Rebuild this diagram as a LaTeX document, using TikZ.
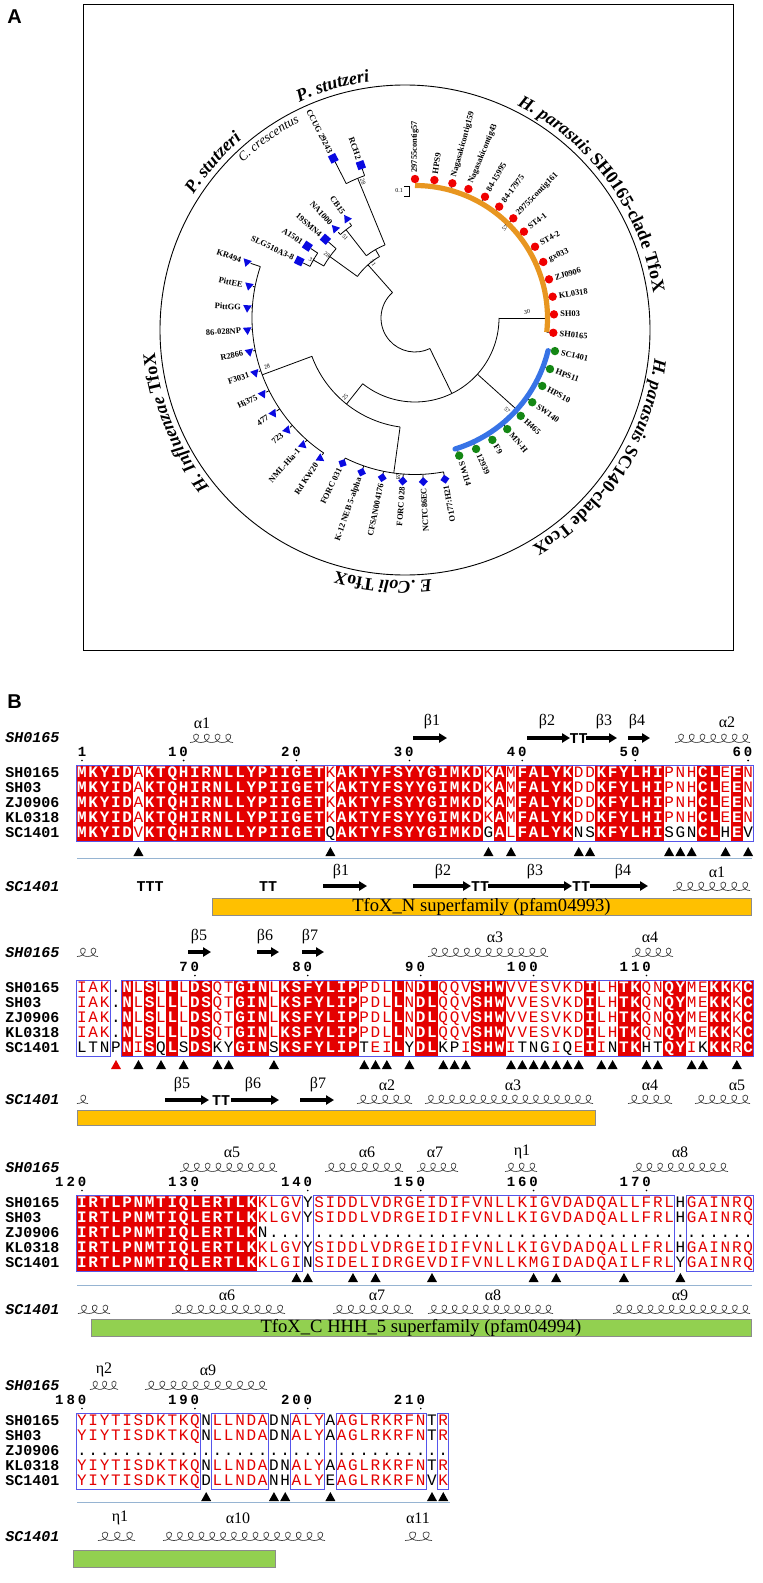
\documentclass[tikz,border=0pt]{standalone}
\usepackage{fontspec}
\setmainfont{Liberation Serif}
\setsansfont{Liberation Sans}
\setmonofont{Liberation Mono}
\usetikzlibrary{arrows.meta, positioning, calc, shapes.geometric, decorations.text}

\definecolor{espred}{RGB}{228,0,0}
\definecolor{espframe}{RGB}{85,85,235}
\definecolor{rulecol}{RGB}{150,180,210}
\definecolor{ntermc}{RGB}{255,192,0}
\definecolor{ctermc}{RGB}{146,208,80}
\definecolor{clorange}{RGB}{232,150,32}
\definecolor{clblue}{RGB}{55,115,230}
\definecolor{hpred}{RGB}{240,0,0}
\definecolor{hpgreen}{RGB}{20,135,20}
\definecolor{symblue}{RGB}{10,10,225}

% alignment helpers
\newcount\rescol
\newcount\digcol
\def\xzero{82}
\def\colw{11.29}
\newcommand\seqline[2]{\global\rescol=0 \def\rowy{#1}\scanres#2\relax}
\def\scanres#1{\ifx\relax#1\let\resnext\relax\else\ifx*#1\let\resnext\scanblack\else\def\curres{#1}\let\resnext\doputres\fi\fi\resnext}
\def\doputres{\global\advance\rescol by 1 \expandafter\classify\curres\endclassify\drawcell\scanres}
\def\classify#1\endclassify{\ifx.#1\def\cellkind{blk}\def\tmpc{.}\else\ifnum`#1>`Z \def\cellkind{sim}\uppercase{\def\tmpc{#1}}\else\def\cellkind{con}\def\tmpc{#1}\fi\fi}
\def\scanblack#1{\global\advance\rescol by 1 \def\cellkind{blk}\def\tmpc{#1}\drawcell\scanres}
\def\drawcell{\pgfmathsetmacro\cx{\xzero+(\the\rescol-1)*\colw}\csname cell\cellkind\endcsname}
\def\cellcon{\fill[espred] (\cx-5.9,\rowy-7.7) rectangle (\cx+5.9,\rowy+7.7);\node[resC] at (\cx,\rowy+4.3) {\tmpc};}
\def\cellsim{\node[resS] at (\cx,\rowy+4.3) {\tmpc};}
\def\cellblk{\node[resB] at (\cx,\rowy+4.3) {\tmpc};}
\newcommand\numlab[4]{\def\numy{#1}\global\digcol=#2\relax\numscan#4\relax\pgfmathsetmacro\cx{\xzero+(#3-1)*\colw}\fill (\cx,#1+4.5) circle (0.9);}
\def\numscan#1{\ifx\relax#1\let\dignext\relax\else\def\curdig{#1}\let\dignext\putdig\fi\dignext}
\def\putdig{\pgfmathsetmacro\cx{\xzero+(\the\digcol-1)*\colw}\node[numtxt] at (\cx,\numy) {\curdig};\global\advance\digcol by 1 \numscan}
\newcommand\hits[2]{\foreach \c in {#2} {\pgfmathsetmacro\cx{\xzero+(\c-1)*\colw}\fill (\cx,#1-5) -- (\cx+5,#1+4) -- (\cx-5,#1+4) -- cycle;}}
\newcommand\consbox[4]{\draw[consframe] ({\xzero+(#1-1)*\colw-5.65},#3) rectangle ({\xzero+(#2-1)*\colw+5.65},#4);}
\newcommand\seqnames[1]{\foreach \nm [count=\k] in {SH0165,SH03,ZJ0906,KL0318,SC1401} \node[seqname] at (5,{#1+15*(\k-1)}) {\nm};}
% helix drawn as a row of curly loops
\newcommand\helix[3]{%
  \pgfmathtruncatemacro\hn{max(1,round((#2-#1)/10.8))}%
  \pgfmathsetmacro\hp{(#2-#1)/\hn}%
  \foreach \i in {1,...,\hn} {
    \pgfmathsetmacro\hx{#1+(\i-1)*\hp}
    \draw[helixline] (\hx,#3+3.5) .. controls (\hx+0.8*\hp,#3+3.5) and (\hx+1.02*\hp,#3-5) .. (\hx+0.58*\hp,#3-5) .. controls (\hx+0.12*\hp,#3-5) and (\hx+0.3*\hp,#3+3.5) .. (\hx+\hp,#3+3.5);
  }}
\def\cladefont{\fontsize{9}{10}\selectfont\bfseries}

\begin{document}
\begin{tikzpicture}[x=0.5pt, y=-0.5pt,
  resC/.style={font=\fontsize{8}{8}\selectfont\ttfamily\bfseries, text=white, inner sep=0pt, anchor=base},
  resS/.style={font=\fontsize{8}{8}\selectfont\ttfamily, text=espred, inner sep=0pt, anchor=base},
  resB/.style={font=\fontsize{8}{8}\selectfont\ttfamily, text=black, inner sep=0pt, anchor=base},
  seqname/.style={font=\fontsize{7.5}{8}\selectfont\ttfamily\bfseries, anchor=west, inner sep=0pt},
  ssname/.style={font=\fontsize{7.5}{8}\selectfont\ttfamily\bfseries\itshape, anchor=west, inner sep=0pt},
  numtxt/.style={font=\fontsize{7}{7}\selectfont\ttfamily\bfseries, inner sep=0pt, anchor=base},
  sslab/.style={font=\fontsize{8}{8}\selectfont, inner sep=0pt},
  turnlab/.style={font=\fontsize{7.5}{8}\selectfont\ttfamily\bfseries, inner sep=0pt},
  helixline/.style={draw=black!75, line width=0.35pt},
  strand/.style={line width=1.6pt, -{Triangle[length=4pt, width=4.6pt]}},
  consframe/.style={draw=espframe, line width=0.5pt},
  dombar/.style={draw=black!45, line width=0.3pt},
  domtext/.style={font=\fontsize{9.3}{10}\selectfont, inner sep=0pt},
  panel/.style={font=\fontsize{10}{12}\selectfont\sffamily\bfseries},
  tree/.style={line width=0.4pt},
  leaflab/.style={font=\fontsize{4.2}{5}\selectfont\bfseries, inner sep=0pt},
  boot/.style={font=\fontsize{3}{3.5}\selectfont, inner sep=0pt},
  sqleaf/.style={rectangle, fill=symblue, minimum size=4pt, inner sep=0pt},
  trileaf/.style={regular polygon, regular polygon sides=3, fill=symblue, minimum size=5pt, inner sep=0pt},
  dileaf/.style={rectangle, fill=symblue, minimum size=3.2pt, inner sep=0pt}]

\useasboundingbox (0,0) rectangle (762,1583);

% ---------------- panel A ----------------
\node[panel] (labA) at (14.5,16.5) {A};
\draw[line width=0.5pt] (83,5) rectangle (733,650);

% scale bar
\draw[line width=0.4pt] (404,186) -- (409,186) -- (409,196) -- (404,196);
\node[boot] (scale) at (399,191) {0.1};

% ring and clade names
\begin{scope}[x=0.5pt, y=0.5pt, shift={(405,-330)}]
  \draw[line width=0.45pt] (0,0) circle (245);
  \path[decorate, decoration={text along path, text align=center, text={|\cladefont\itshape|H. parasuis |\cladefont\upshape|SH0165-clade TfoX}}] (76:251) arc[start angle=76, end angle=-4, radius=251];
  \path[decorate, decoration={text along path, text align=center, text={|\cladefont\itshape|H. parasuis |\cladefont\upshape|SC140-clade TcoX}}] (7:251) arc[start angle=7, end angle=-73, radius=251];
  \path[decorate, decoration={text along path, text align=center, text={|\cladefont\itshape|E .Coli |\cladefont\upshape|TfoX}}] (-55:251) arc[start angle=-55, end angle=-135, radius=251];
  \path[decorate, decoration={text along path, text align=center, text={|\cladefont\itshape|H. Influenzae |\cladefont\upshape|TfoX}}] (242:251) arc[start angle=242, end angle=162, radius=251];
  \path[decorate, decoration={text along path, text align=center, text={|\cladefont\itshape|P. stutzeri}}] (126:251) arc[start angle=126, end angle=87, radius=251];
  \path[decorate, decoration={text along path, text align=center, text={|\cladefont\itshape|P. stutzeri}}] (159:251) arc[start angle=159, end angle=119, radius=251];
  \path[decorate, decoration={text along path, text align=center, text={|\fontsize{6.5}{7}\selectfont\itshape|C. crescentus}}] (145:233) arc[start angle=145, end angle=106, radius=233];
\end{scope}

% tree
\begin{scope}[x=0.5pt, y=0.5pt, shift={(415,-318)}]
  % root
  \draw[tree] (131.5:34) arc[start angle=131.5, end angle=296, radius=34];
  \draw[tree] (131.5:34) -- (131.5:71);
  \draw[tree] (296:34) -- (296:84);
  % P. stutzeri / C. crescentus
  \draw[tree] (144.2:71) arc[start angle=144.2, end angle=120, radius=71];
  \draw[tree] (120:71) -- (120:79);
  \draw[tree] (128:79) arc[start angle=128, end angle=112.3, radius=79];
  \draw[tree] (128:79) -- (128:112);
  \draw[tree] (131.8:112) arc[start angle=131.8, end angle=124.5, radius=112];
  \draw[tree] (112.3:79) -- (112.3:151);
  \draw[tree] (117.1:151) arc[start angle=117.1, end angle=109.5, radius=151];
  \draw[tree] (144.2:71) -- (144.2:105);
  \draw[tree] (150.3:105) arc[start angle=150.3, end angle=138.7, radius=105];
  \draw[tree] (150.3:105) -- (150.3:117);
  \draw[tree] (153.8:117) arc[start angle=153.8, end angle=146.3, radius=117];
  % influenzae, coli and parasuis
  \draw[tree] (231.5:84) arc[start angle=231.5, end angle=360, radius=84];
  \draw[tree] (231.5:84) -- (231.5:110);
  \draw[tree] (200.4:110) arc[start angle=200.4, end angle=262.2, radius=110];
  \draw[tree] (200.4:110) -- (200.4:163);
  \draw[tree] (161.6:163) arc[start angle=161.6, end angle=235.9, radius=163];
  \draw[tree] (262.2:110) -- (262.2:156.5);
  \draw[tree] (243.5:156.5) arc[start angle=243.5, end angle=280.5, radius=156.5];
  \draw[tree] (0:84) -- (0:132.5);
  \draw[tree] (90:132.5) arc[start angle=90, end angle=-6.1, radius=132.5];
  \draw[tree] (-42:84) -- (-42:137);
  \draw[tree] (-13.3:137) arc[start angle=-13.3, end angle=-72.2, radius=137];

  \def\redleaves{90/139/29755contig57, 82/139.3/HPS9, 74.5/139.8/Nagasakicontig159, 67.5/139.6/Nagasakicontig43, 60/140/84-15995, 52.9/139.6/84-17975, 45.4/140/29755contig161, 38.4/139/ST4-1, 30.7/139.6/ST4-2, 23.6/140/gx033, 16.1/139.5/ZJ0906, 8.8/139.3/KL0318, 1.5/139/SH03, -6.1/139.1/SH0165}
  \def\greenleaves{-13.3/143.8/SC1401, -20.7/144.3/HPS11, -28.1/144.3/HPS10, -35.7/144.4/SW140, -42.8/144.1/H465, -50.3/144.4/MN-H, -57.6/144.4/F9, -65/144.5/12939, -72.2/144.6/SW114}
  \def\colileaves{-79.5/164/O177:H21, -87.1/163.9/NCTC86EC, -94.3/163.5/FORC 028, -101.6/163/CFSAN004176, -109.1/163.2/K-12 NEB 5-alpha, -116.5/162.3/FORC 031}
  \def\hileaves{161.6/177.1/KR494, 169/169.1/PittEE, 176.5/168/PittGG, 184.1/168.1/86-028NP, 191.5/169.1/R2866, 198.9/169.1/F3031, 206.5/170.2/Hi375, 213.9/170.8/477, 221.2/170.1/723, 228.5/169.5/NML-Hia-1, 235.9/169.4/Rd KW20}

  \foreach \a/\r/\lab in \redleaves {\draw[tree] (\a:132.5) -- (\a:\r-4);}
  \foreach \a/\r/\lab in \greenleaves {\draw[tree] (\a:137) -- (\a:\r-4);}
  \foreach \a/\r/\lab in \colileaves {\draw[tree] (\a:156.5) -- (\a:\r-3.5);}
  \foreach \a/\r/\lab in \hileaves {\draw[tree] (\a:163) -- (\a:\r-4);}
  \draw[tree] (109.5:151) -- (109.5:158);
  \draw[tree] (117.1:151) -- (117.1:175);
  \draw[tree] (124.5:112) -- (124.5:115.5);
  \draw[tree] (131.8:112) -- (131.8:115);
  \draw[tree] (138.7:105) -- (138.7:115);
  \draw[tree] (146.3:117) -- (146.3:125);
  \draw[tree] (153.8:117) -- (153.8:124.5);

  % clade bands
  \draw[clorange, line width=2.6pt] (90:132.5) arc[start angle=90, end angle=-6.1, radius=132.5];
  \draw[clblue, line width=2.6pt, line cap=round] (-13.8:137) arc[start angle=-13.8, end angle=-73, radius=137];

  % leaves
  \foreach \a/\r/\lab in \redleaves {
    \fill[hpred] (\a:\r) circle (4.2);
    \node[leaflab, rotate=\a, anchor=west] at (\a:\r+6) {\lab};
  }
  \foreach \a/\r/\lab in \greenleaves {
    \fill[hpgreen] (\a:\r) circle (4.2);
    \node[leaflab, rotate=\a, anchor=west] at (\a:\r+6) {\lab};
  }
  \foreach \a/\r/\lab in \colileaves {
    \node[dileaf, rotate=\a+45] at (\a:\r) {};
    \node[leaflab, rotate=\a+180, anchor=east] at (\a:\r+6) {\lab};
  }
  \foreach \a/\r/\lab in \hileaves {
    \node[trileaf, rotate=\a] at (\a:\r) {};
    \node[leaflab, rotate=\a-180, anchor=east] at (\a:\r+6) {\lab};
  }
  \foreach \a/\r/\lab in {109.5/162.2/RCH2, 117.1/179.4/CCUG 29243, 138.7/119.3/19SMN4, 146.3/129.4/A1501, 153.8/129/SLG510A3-8} {
    \node[sqleaf, rotate=\a] at (\a:\r) {};
    \node[leaflab, rotate=\a-180, anchor=east] at (\a:\r+6) {\lab};
  }
  \foreach \a/\r/\lab in {124.5/120.1/CB15, 131.8/119.7/NA1000} {
    \node[trileaf, rotate=\a-90] at (\a:\r) {};
    \node[leaflab, rotate=\a-180, anchor=east] at (\a:\r+6) {\lab};
  }
  % bootstrap values
  \foreach \a/\r/\v in {110.9/145.6/28, 130.8/107/51, 144.4/108.2/28, 150.6/118.2/31, 127.4/69.2/31, 198.3/155.9/28, 228.5/105.6/25} {
    \node[boot, rotate=\a-180] at (\a:\r) {\v};
  }
  \foreach \a/\r/\v in {45/127.3/57, 3.1/112.2/30, -45/130.1/57, -96/159.5/28} {
    \node[boot, rotate=\a] at (\a:\r) {\v};
  }
\end{scope}

% ---------------- panel B ----------------
\node[panel] (labB) at (14.5,702) {B};

% block 1 (1-60)
\node[ssname] (ss1a) at (5,738) {SH0165};
\helix{190}{233}{739}
\node[sslab] at (202,723) {α1};
\draw[strand] (413,738) -- (447,738); \node[sslab] at (432,722) {β1};
\draw[strand] (527,738) -- (570,738); \node[sslab] at (547,722) {β2};
\node[turnlab] at (578.5,739) {TT};
\draw[strand] (586,738) -- (617,738); \node[sslab] at (604,722) {β3};
\draw[strand] (628,738) -- (650,738); \node[sslab] at (637,722) {β4};
\helix{675}{750}{739} \node[sslab] at (727,722) {α2};
\numlab{756}{1}{1}{1}\numlab{756}{9}{10}{10}\numlab{756}{19}{20}{20}\numlab{756}{29}{30}{30}
\numlab{756}{39}{40}{40}\numlab{756}{49}{50}{50}\numlab{756}{59}{60}{60}
\seqnames{773}
\seqline{773}{MKYIDaKTQHIRNLLYPIIGETkAKTYFSYYGIMKDkAmFALYKddKFYLHIpnhCLeEn}
\seqline{788}{MKYIDaKTQHIRNLLYPIIGETkAKTYFSYYGIMKDkAmFALYKddKFYLHIpnhCLeEn}
\seqline{803}{MKYIDaKTQHIRNLLYPIIGETkAKTYFSYYGIMKDkAmFALYKddKFYLHIpnhCLeEn}
\seqline{818}{MKYIDaKTQHIRNLLYPIIGETkAKTYFSYYGIMKDkAmFALYKddKFYLHIpnhCLeEn}
\seqline{833}{MKYIDvKTQHIRNLLYPIIGET*QAKTYFSYYGIMKD*GAlFALYK*N*SKFYLHI*S*G*NCL*HE*V}
\consbox{1}{60}{765.3}{841}
\hits{852}{6,23,37,39,45,46,53,54,55,58,60}
\draw[rulecol, line width=0.5pt] (77,858) -- (752,858);
\node[ssname] (ss1b) at (5,887) {SC1401};
\node[turnlab] at (150,887) {TTT};
\node[turnlab] at (268,887) {TT};
\draw[strand] (323,886) -- (367,886); \node[sslab] at (341,872) {β1};
\draw[strand] (413,886) -- (471,886); \node[sslab] at (443,872) {β2};
\node[turnlab] at (480,887) {TT};
\draw[strand] (488,886) -- (572,886); \node[sslab] at (535,872) {β3};
\node[turnlab] at (581,887) {TT};
\draw[strand] (590,886) -- (648,886); \node[sslab] at (623,872) {β4};
\helix{673}{750}{887} \node[sslab] at (717,872) {α1};
\draw[dombar, fill=ntermc] (212,898) rectangle (751,915);
\node[domtext] (dom1) at (481.5,906.5) {TfoX\_N superfamily (pfam04993)};

% block 2 (61-119)
\node[ssname] (ss2a) at (5,953) {SH0165};
\helix{77}{98}{953}
\draw[strand] (188,952) -- (211,952); \node[sslab] at (199,937) {β5};
\draw[strand] (257,952) -- (279,952); \node[sslab] at (265,937) {β6};
\draw[strand] (302,952) -- (324,952); \node[sslab] at (310,937) {β7};
\helix{428}{548}{953} \node[sslab] at (495,937) {α3};
\helix{632}{673}{953} \node[sslab] at (650,937) {α4};
\numlab{971}{10}{11}{70}\numlab{971}{20}{21}{80}\numlab{971}{30}{31}{90}
\numlab{971}{39}{41}{100}\numlab{971}{49}{51}{110}
\seqnames{988}
\seqline{988}{iak.NlSlLlDSqtGINlKSFYLIPpdlLnDLqqvSHWvvesvkdIlhTKqnQYmeKKkC}
\seqline{1003}{iak.NlSlLlDSqtGINlKSFYLIPpdlLnDLqqvSHWvvesvkdIlhTKqnQYmeKKkC}
\seqline{1018}{iak.NlSlLlDSqtGINlKSFYLIPpdlLnDLqqvSHWvvesvkdIlhTKqnQYmeKKkC}
\seqline{1033}{iak.NlSlLlDSqtGINlKSFYLIPpdlLnDLqqvSHWvvesvkdIlhTKqnQYmeKKkC}
\seqline{1048}{*L*T*N*PNiS*QL*SDS*K*YGIN*SKSFYLIP*TeiL*YDL*K*PiSHWi*T*N*Gi*QeIi*NTK*H*TQYi*KKKrC}
\consbox{1}{3}{980.3}{1056}
\consbox{5}{60}{980.3}{1056}
\fill[espred] (116,1060) -- (121,1069) -- (111,1069) -- cycle;
\hits{1065}{6,8,10,13,14,18,26,27,28,30,33,34,35,39,40,41,42,43,44,45,47,48,51,52,55,56,59}
\node[ssname] (ss2b) at (5,1100) {SC1401};
\helix{77}{88}{1100}
\draw[strand] (165,1100) -- (209,1100); \node[sslab] at (182,1085) {β5};
\node[turnlab] at (221,1101) {TT};
\draw[strand] (231,1100) -- (279,1100); \node[sslab] at (253,1085) {β6};
\draw[strand] (300,1100) -- (334,1100); \node[sslab] at (318,1085) {β7};
\helix{357}{412}{1100} \node[sslab] at (387,1085) {α2};
\helix{425}{593}{1100} \node[sslab] at (513,1085) {α3};
\helix{628}{672}{1100} \node[sslab] at (650,1085) {α4};
\helix{695}{750}{1100} \node[sslab] at (737,1085) {α5};
\draw[dombar, fill=ntermc] (77,1110) rectangle (595,1125);

% block 3 (120-179)
\node[ssname] (ss3a) at (5,1168) {SH0165};
\helix{180}{277}{1168} \node[sslab] at (232,1152) {α5};
\helix{325}{403}{1168} \node[sslab] at (367,1152) {α6};
\helix{417}{458}{1168} \node[sslab] at (435,1152) {α7};
\helix{505}{537}{1168} \node[sslab] at (522,1152) {η1};
\helix{633}{728}{1168} \node[sslab] at (680,1152) {α8};
\numlab{1186}{-1}{1}{120}\numlab{1186}{9}{11}{130}\numlab{1186}{19}{21}{140}
\numlab{1186}{29}{31}{150}\numlab{1186}{39}{41}{160}\numlab{1186}{49}{51}{170}
\seqnames{1203}
\seqline{1203}{IRTLPNMTIQLERTLKklgv*Ysiddlvdrgeidifvnllkigvdadqallfrl*Hgainrq}
\seqline{1218}{IRTLPNMTIQLERTLKklgv*Ysiddlvdrgeidifvnllkigvdadqallfrl*Hgainrq}
\seqline{1233}{IRTLPNMTIQLERTLK*N...........................................}
\seqline{1248}{IRTLPNMTIQLERTLKklgv*Ysiddlvdrgeidifvnllkigvdadqallfrl*Hgainrq}
\seqline{1263}{IRTLPNMTIQLERTLKklgi*Nsidelidrgevdifvnllkmgidadqailfrl*Ygainrq}
\consbox{1}{20}{1195.3}{1271}
\consbox{22}{53}{1195.3}{1271}
\consbox{55}{60}{1195.3}{1271}
\hits{1278}{20,21,25,27,32,41,43,49,54}
\draw[rulecol, line width=0.5pt] (77,1285) -- (752,1285);
\node[ssname] (ss3b) at (5,1310) {SC1401};
\helix{78}{110}{1310}
\helix{172}{285}{1310} \node[sslab] at (227,1295) {α6};
\helix{333}{413}{1310} \node[sslab] at (377,1295) {α7};
\helix{428}{553}{1310} \node[sslab] at (493,1295) {α8};
\helix{613}{750}{1310} \node[sslab] at (680,1295) {α9};
\draw[dombar, fill=ctermc] (91,1319) rectangle (751,1336);
\node[domtext] (dom2) at (421,1327.5) {TfoX\_C HHH\_5 superfamily (pfam04994)};

% block 4 (180-212)
\node[ssname] (ss4a) at (5,1386) {SH0165};
\helix{90}{118}{1386} \node[sslab] at (104,1370) {η2};
\helix{145}{267}{1386} \node[sslab] at (208,1370) {α9};
\numlab{1404}{-1}{1}{180}\numlab{1404}{9}{11}{190}\numlab{1404}{19}{21}{200}\numlab{1404}{29}{31}{210}
\seqnames{1421}
\seqline{1421}{yiytisdktkq*Nllnda*D*Naly*Aaglrkrfn*Tr}
\seqline{1436}{yiytisdktkq*Nllnda*D*Naly*Aaglrkrfn*Tr}
\seqline{1451}{.................................}
\seqline{1466}{yiytisdktkq*Nllnda*D*Naly*Aaglrkrfn*Tr}
\seqline{1481}{yiytisdktkq*Dllnda*N*Haly*Eaglrkrfn*Vk}
\consbox{1}{11}{1413.3}{1489}
\consbox{13}{17}{1413.3}{1489}
\consbox{20}{22}{1413.3}{1489}
\consbox{24}{31}{1413.3}{1489}
\consbox{33}{33}{1413.3}{1489}
\hits{1497}{12,18,19,23,32,33}
\draw[rulecol, line width=0.5pt] (77,1502) -- (450,1502);
\node[ssname] (ss4b) at (5,1537) {SC1401};
\helix{98}{135}{1537} \node[sslab] at (120,1518) {η1};
\helix{163}{325}{1537} \node[sslab] at (238,1518) {α10};
\helix{405}{432}{1537} \node[sslab] at (418,1518) {α11};
\draw[dombar, fill=ctermc] (73,1550) rectangle (275,1567);

\end{tikzpicture}
\end{document}
